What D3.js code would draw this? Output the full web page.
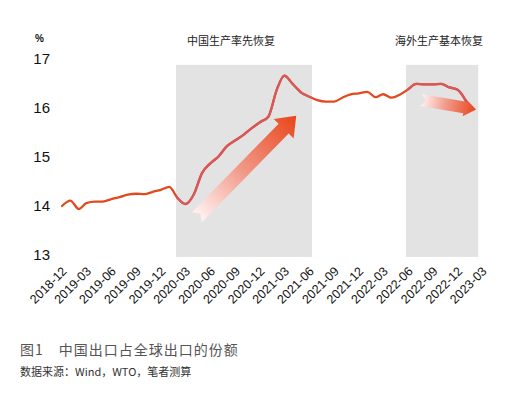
<!DOCTYPE html>
<html>
<head>
<meta charset="utf-8">
<script src="https://cdn.jsdelivr.net/npm/d3@7"></script>
<style>
  body { margin: 0; background: #fff; }
  svg { display: block; }
</style>
</head>
<body>
<svg id="chart"></svg>
<script>
// monthly share of world exports (%), 2018-12 .. 2023-01
var startMonth = "2018-12";
var shareValues = [
  13.98, 14.09, 13.92, 14.04, 14.07, 14.07, 14.12, 14.16, 14.21, 14.23,
  14.22, 14.27, 14.31, 14.37, 14.14, 14.02, 14.22, 14.65, 14.85, 14.99,
  15.20, 15.32, 15.43, 15.57, 15.69, 15.80, 16.35, 16.64, 16.47, 16.30,
  16.21, 16.14, 16.11, 16.11, 16.19, 16.26, 16.28, 16.31, 16.20, 16.26,
  16.19, 16.25, 16.36, 16.47, 16.46, 16.46, 16.47, 16.40, 16.35, 16.12
];

var tickLabels = [
  "2018-12", "2019-03", "2019-06", "2019-09", "2019-12", "2020-03",
  "2020-06", "2020-09", "2020-12", "2021-03", "2021-06", "2021-09",
  "2021-12", "2022-03", "2022-06", "2022-09", "2022-12", "2023-03"
];
var yTicks = [13, 14, 15, 16, 17];

// shaded periods and their captions
var shadeStarts = ["2020-01-26", "2022-05-24"];
var shadeEnds   = ["2021-06-11", "2023-02-15"];
var shadeTitles = ["中国生产率先恢复", "海外生产基本恢复"];

// trend arrows: [date, value] of tail and tip
var arrowTails = [["2020-04-12", 13.75], ["2022-07-19", 16.14]];
var arrowTips  = [["2021-04-14", 15.82], ["2023-02-07", 15.95]];

(function(){
  var width = 507, height = 398;
  var parseMonth = d3.timeParse("%Y-%m"),
      parseDay = d3.timeParse("%Y-%m-%d");

  var t0 = parseMonth(startMonth);
  var series = shareValues.map(function(v, i) {
    return { date: d3.timeMonth.offset(t0, i), value: v };
  });

  var x = d3.scaleTime()
    .domain([parseMonth(tickLabels[0]), parseMonth(tickLabels[tickLabels.length - 1])])
    .range([62, 482]);
  var y = d3.scaleLinear().domain([13, 17]).range([254, 58]);

  var svg = d3.select("#chart").attr("width", width).attr("height", height);
  var defs = svg.append("defs");

  // shaded periods
  var shades = shadeStarts.map(function(s, i) {
    return { from: parseDay(s), to: parseDay(shadeEnds[i]), title: shadeTitles[i] };
  });

  svg.selectAll("rect.shade")
    .data(shades)
    .enter()
    .append("rect")
    .attr("class", "shade")
    .attr("x", function(d) { return x(d.from); })
    .attr("width", function(d) { return x(d.to) - x(d.from); })
    .attr("y", y(16.86))
    .attr("height", y(12.94) - y(16.86))
    .attr("fill", "#e3e3e3");

  svg.selectAll("text.shade-title")
    .data(shades)
    .enter()
    .append("text")
    .attr("class", "shade-title")
    .attr("x", function(d, i) { return i == 0 ? 231 : 439; })
    .attr("y", 45)
    .attr("text-anchor", "middle")
    .style("font-family", "'Noto Sans CJK SC', sans-serif")
    .style("font-size", "11px")
    .attr("fill", "#222")
    .text(function(d) { return d.title; });

  // arrows
  arrowTails.forEach(function(tail, i) {
    var tip = arrowTips[i];
    var x1 = x(parseDay(tail[0])), y1 = y(tail[1]),
        x2 = x(parseDay(tip[0])),  y2 = y(tip[1]);
    var len = Math.sqrt((x2 - x1) * (x2 - x1) + (y2 - y1) * (y2 - y1));
    var ang = Math.atan2(y2 - y1, x2 - x1) * 180 / Math.PI;
    var big = i == 0;
    var w = big ? 7 : 6, hw = big ? 14 : 9, hl = big ? 18 : 12, notch = big ? 5 : 5;

    var grad = defs.append("linearGradient")
      .attr("id", "arrowGrad" + i)
      .attr("x1", 0).attr("x2", 1).attr("y1", 0).attr("y2", 0);
    grad.append("stop").attr("offset", 0).attr("stop-color", "#fff4f4");
    grad.append("stop").attr("offset", 0.45).attr("stop-color", "#f29a8a");
    grad.append("stop").attr("offset", 1).attr("stop-color", "#e8461b");

    var pts = [
      [0, -w], [len - hl, -w], [len - hl, -hw], [len, 0],
      [len - hl, hw], [len - hl, w], [0, w], [notch, 0]
    ];
    svg.append("g")
      .attr("transform", "translate(" + x1 + "," + y1 + ") rotate(" + ang + ")")
      .append("polygon")
      .attr("points", pts.map(function(p) { return p.join(","); }).join(" "))
      .attr("fill", "url(#arrowGrad" + i + ")");
  });

  // line
  var line = d3.line()
    .x(function(d) { return x(d.date); })
    .y(function(d) { return y(d.value); })
    .curve(d3.curveMonotoneX);

  svg.append("path")
    .datum(series)
    .attr("d", line)
    .attr("fill", "none")
    .attr("stroke", "#e2491e")
    .attr("stroke-width", 2.3)
    .attr("stroke-linecap", "round");

  // paler line where it crosses the shaded periods
  var clip = defs.append("clipPath").attr("id", "shadeClip");
  clip.selectAll("rect")
    .data(shades)
    .enter()
    .append("rect")
    .attr("x", function(d) { return x(d.from); })
    .attr("width", function(d) { return x(d.to) - x(d.from); })
    .attr("y", 0)
    .attr("height", height);

  svg.append("path")
    .datum(series)
    .attr("d", line)
    .attr("clip-path", "url(#shadeClip)")
    .attr("fill", "none")
    .attr("stroke", "#d7585a")
    .attr("stroke-width", 2.3)
    .attr("stroke-linecap", "round");

  // y axis labels
  svg.selectAll("text.ytick")
    .data(yTicks)
    .enter()
    .append("text")
    .attr("class", "ytick")
    .attr("x", 50)
    .attr("y", function(d) { return y(d) + 5.5; })
    .attr("text-anchor", "end")
    .style("font-family", "'Liberation Sans', Arial, sans-serif")
    .style("font-size", "15px")
    .attr("fill", "#111")
    .text(function(d) { return d; });

  svg.append("text")
    .attr("x", 35)
    .attr("y", 42)
    .style("font-family", "'Liberation Sans', Arial, sans-serif")
    .style("font-size", "10px")
    .style("font-weight", "bold")
    .attr("fill", "#111")
    .text("%");

  // x axis: rotated month labels
  var xAxis = d3.axisBottom(x)
    .tickValues(tickLabels.map(parseMonth))
    .tickSize(0)
    .tickFormat(d3.timeFormat("%Y-%m"));

  var gx = svg.append("g")
    .attr("transform", "translate(0,258)")
    .call(xAxis);
  gx.select(".domain").remove();
  gx.selectAll("text")
    .attr("x", 0).attr("y", 0).attr("dy", 0)
    .attr("text-anchor", "end")
    .attr("transform", "translate(5,14) rotate(-45)")
    .style("font-family", "'Liberation Sans', Arial, sans-serif")
    .style("font-size", "12.5px")
    .attr("fill", "#111");

  // caption
  svg.append("text")
    .attr("x", 20)
    .attr("y", 355)
    .style("font-family", "'Noto Sans CJK SC', sans-serif")
    .style("font-size", "14px")
    .style("letter-spacing", "1px")
    .attr("fill", "#555")
    .text("图1　中国出口占全球出口的份额");

  svg.append("text")
    .attr("x", 20)
    .attr("y", 376)
    .style("font-family", "'Noto Sans CJK SC', sans-serif")
    .style("font-size", "11px")
    .attr("fill", "#333")
    .text("数据来源：Wind，WTO，笔者测算");
})();
</script>
</body>
</html>
